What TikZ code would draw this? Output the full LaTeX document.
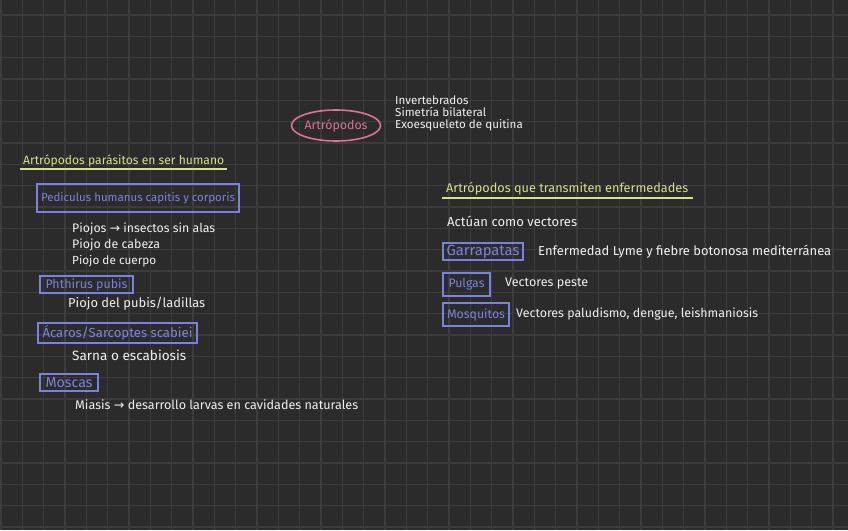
\documentclass[tikz,border=0pt]{standalone}
\usepackage{fontspec}
\setmainfont{Fira Sans}
\newfontfamily\arrowfont{DejaVu Sans}
\definecolor{bgc}{HTML}{2B2B2B}
\definecolor{gridc}{HTML}{3C3C3C}
\definecolor{wtext}{HTML}{F0F0F0}
\definecolor{ylw}{HTML}{D9E08C}
\definecolor{blu}{HTML}{7A82E0}
\definecolor{pnk}{HTML}{E0709A}
\newsavebox\fitbox
\newcommand\fitw[2]{\sbox\fitbox{\fontsize{10pt}{12pt}\selectfont #2}%
  \pgfmathsetmacro\fitfs{10*#1/(\the\wd\fitbox)}%
  \pgfmathsetmacro\fitbs{1.2*\fitfs}%
  \fontsize{\fitfs pt}{\fitbs pt}\selectfont #2}
\newcommand\arr{{\arrowfont →}}
\tikzset{
  txt/.style={anchor=west, inner sep=0pt, text=wtext},
  head/.style={anchor=west, inner sep=0pt, text=ylw},
  uline/.style={draw=ylw, line width=1.6pt},
  bbox/.style={draw=blu, line width=1.6pt, text=blu, inner sep=0pt},
  oval/.style={ellipse, draw=pnk, line width=1.6pt, text=pnk, inner sep=0pt},
  small/.style={font=\fontsize{11.6pt}{12pt}\selectfont, align=left}
}
\usetikzlibrary{shapes.geometric}
\begin{document}
\begin{tikzpicture}[x=1pt,y=-1pt]
\fill[bgc] (0,0) rectangle (848,530);
\useasboundingbox (0,0) rectangle (848,530);
\foreach \k in {0,...,39} {\draw[gridc, line width=1.4pt] ({1+\k*21.33},0) -- ({1+\k*21.33},530);}
\foreach \k in {0,...,24} {\draw[gridc, line width=1.4pt] (0,{15+\k*21.33}) -- (848,{15+\k*21.33});}

% central oval
\node[oval, minimum width=88pt, minimum height=31pt] (art) at (336,125.5) {\fitw{63}{Artrópodos}};
\node[txt, small] (traits) at (395,113.5) {Invertebrados\\Simetría bilateral\\Exoesqueleto de quitina};

% left heading
\node[head] (h1) at (23,161) {\fitw{201}{Artrópodos parásitos en ser humano}};
\coordinate (u1a) at (20,169);
\coordinate (u1b) at (227,169);
\draw[uline] (u1a) -- (u1b);

\node[bbox, minimum width=202pt, minimum height=28pt] (ped) at (138,198) {\fitw{194}{Pediculus humanus capitis y corporis}};
\node[txt] (p1) at (72,229) {\fitw{143}{Piojos \arr\ insectos sin alas}};
\node[txt] (p2) at (72,245) {\fitw{88}{Piojo de cabeza}};
\node[txt] (p3) at (72,261) {\fitw{84}{Piojo de cuerpo}};

\node[bbox, minimum width=93pt, minimum height=17pt] (pht) at (86.5,284.5) {\fitw{82}{Phthirus pubis}};
\node[txt] (p4) at (68,304) {\fitw{137}{Piojo del pubis/ladillas}};

\node[bbox, minimum width=159pt, minimum height=20pt] (aca) at (117.5,333) {\fitw{150}{Ácaros/Sarcoptes scabiei}};
\node[txt] (p5) at (72,355) {\fitw{114}{Sarna o escabiosis}};

\node[bbox, minimum width=58pt, minimum height=17pt] (mos) at (69,382.5) {\fitw{47}{Moscas}};
\node[txt] (p6) at (75,405) {\fitw{283}{Miasis \arr\ desarrollo larvas en cavidades naturales}};

% right heading
\node[head] (h2) at (446,189) {\fitw{242}{Artrópodos que transmiten enfermedades}};
\coordinate (u2a) at (442,198);
\coordinate (u2b) at (693,198);
\draw[uline] (u2a) -- (u2b);

\node[txt] (act) at (447,221) {\fitw{130}{Actúan como vectores}};

\node[bbox, minimum width=80pt, minimum height=17pt] (gar) at (483,251.5) {\fitw{73}{Garrapatas}};
\node[txt] (t1) at (538,252) {\fitw{293}{Enfermedad Lyme y fiebre botonosa mediterránea}};

\node[bbox, minimum width=47pt, minimum height=23pt] (pul) at (466.5,284.5) {\fitw{36}{Pulgas}};
\node[txt] (t2) at (505,284) {\fitw{83}{Vectores peste}};

\node[bbox, minimum width=66pt, minimum height=23pt] (mosq) at (476,314.5) {\fitw{58}{Mosquitos}};
\node[txt] (t3) at (516,314) {\fitw{242}{Vectores paludismo, dengue, leishmaniosis}};
\end{tikzpicture}
\end{document}
